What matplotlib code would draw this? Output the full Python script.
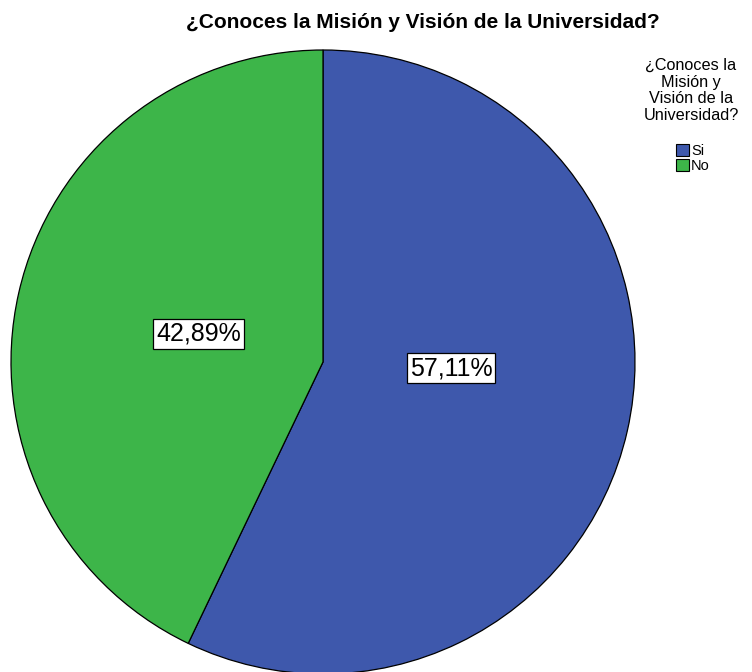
import matplotlib
matplotlib.use("Agg")
import matplotlib.pyplot as plt

# data
categories = ["Si", "No"]
percentages = [57.11, 42.89]
colors = ["#3E58AC", "#3DB549"]
title = "¿Conoces la Misión y Visión de la Universidad?"
legend_title = "¿Conoces la\nMisión y\nVisión de la\nUniversidad?"

plt.rcParams["font.family"] = ["Liberation Sans", "DejaVu Sans"]

W, H = 752, 672
fig = plt.figure(figsize=(W / 100, H / 100), dpi=100)
# pie axes: radius ~312 px, centre ~(323, 362) px from top-left
r = 312
ax = fig.add_axes([(323 - r) / W, (H - 362 - r) / H, 2 * r / W, 2 * r / H])

wedges, texts, autotexts = ax.pie(
    percentages, colors=colors, startangle=90, counterclock=False,
    autopct=lambda p: f"{p:.2f}%".replace(".", ","), pctdistance=0.41,
    wedgeprops=dict(edgecolor="black", linewidth=0.9),
    textprops=dict(fontsize=18, color="black"),
)
for t in autotexts:
    t.set_bbox(dict(facecolor="white", edgecolor="black", linewidth=0.9,
                    boxstyle="square,pad=0.12"))
# SPSS puts the larger slice's label nearer the horizontal
x0, y0 = autotexts[0].get_position()
autotexts[0].set_position((x0 + 0.01, y0 + 0.07))
ax.set_xlim(-1, 1)
ax.set_ylim(-1, 1)
ax.set_aspect("auto")
ax.axis("off")

fig.text(423 / W, 1 - 22 / H, title, ha="center", va="center",
         fontsize=15, fontweight="bold")

fig.text(691 / W, 1 - 58 / H, legend_title, ha="center", va="top",
         fontsize=11.7, linespacing=1.13, multialignment="center")

leg = fig.legend(wedges, categories, loc="upper left",
                 bbox_to_anchor=(676 / W, 1 - 144 / H), frameon=False,
                 fontsize=10.5, handlelength=0.9, handleheight=0.9,
                 handletextpad=0.12, labelspacing=0.05, borderpad=0,
                 borderaxespad=0)
for h in leg.legend_handles:
    h.set_edgecolor("black")
    h.set_linewidth(0.8)

fig.savefig("out.png", dpi=100)
